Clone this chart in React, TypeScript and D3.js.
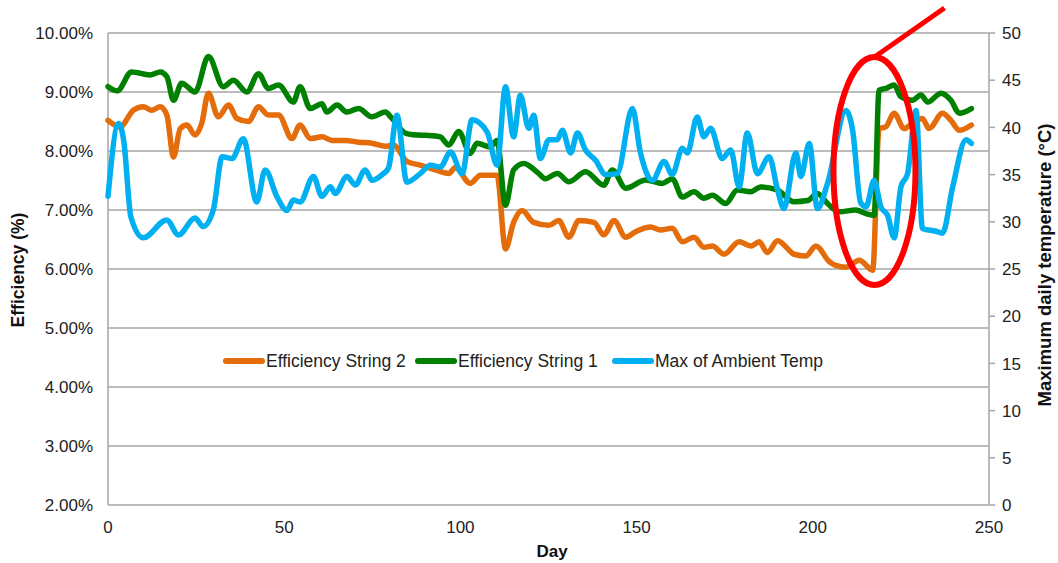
import React from 'react';
import * as d3 from 'd3';

// [day, efficiency %]
const string2: [number, number][] = [
  [0, 8.52], [3.4, 8.41], [7.2, 8.69], [10, 8.75], [12.4, 8.69], [14.8, 8.75], [16.7, 8.61],
  [18.6, 7.9], [20.5, 8.38], [22.4, 8.44], [24.7, 8.27], [26.6, 8.47], [28.5, 8.98], [31.3, 8.58],
  [34.2, 8.78], [36.6, 8.55], [39.9, 8.5], [42.7, 8.75], [45.5, 8.61], [48.4, 8.61], [52.2, 8.21],
  [54.5, 8.44], [57.4, 8.21], [60.7, 8.24], [63.6, 8.18], [67.3, 8.18], [71.1, 8.15], [74.9, 8.13],
  [78.7, 8.08], [81, 8.1], [84.9, 7.82], [88.6, 7.76], [93.4, 7.67], [96.7, 7.62], [98.6, 7.72],
  [102.8, 7.45], [105.7, 7.59], [110.4, 7.59], [112.8, 6.34], [115.1, 6.79], [117.5, 6.99],
  [120.8, 6.79], [125.1, 6.74], [127.9, 6.82], [130.8, 6.54], [133.6, 6.82], [137.9, 6.79],
  [140.7, 6.58], [143.6, 6.82], [146.9, 6.54], [149.7, 6.63], [154, 6.71], [156.8, 6.66],
  [160.1, 6.69], [163, 6.46], [166.3, 6.54], [169.1, 6.37], [171.5, 6.39], [174.8, 6.25],
  [179.1, 6.46], [182.4, 6.39], [184.8, 6.46], [187.1, 6.28], [190, 6.48], [194.7, 6.25],
  [198, 6.22], [200.9, 6.39], [204.6, 6.13], [206.5, 6.06], [209.4, 6.03], [213.2, 6.15],
  [217, 5.98], [218.8, 8.38], [220.7, 8.41], [223.1, 8.64], [225.9, 8.38], [228.3, 8.47],
  [231.1, 8.55], [233, 8.38], [236.8, 8.64], [239.2, 8.52], [241.6, 8.35], [245, 8.44],
];

const string1: [number, number][] = [
  [0, 9.09], [2.6, 9.02], [6.7, 9.34], [11.9, 9.29], [14.8, 9.34], [16.7, 9.26], [18.6, 8.86],
  [20.9, 9.15], [24.7, 9.0], [28.5, 9.6], [32.7, 9.09], [35.6, 9.2], [39.4, 9.0], [42.7, 9.31],
  [45.5, 9.06], [48.4, 9.12], [52.6, 8.83], [54.5, 9.09], [57.4, 8.72], [60.7, 8.8], [62.1, 8.66],
  [65, 8.78], [67.8, 8.66], [71.1, 8.72], [74.9, 8.58], [78.7, 8.66], [80.5, 8.56], [84.5, 8.3],
  [88, 8.27], [92, 8.26], [94.3, 8.24], [96.7, 8.1], [99.5, 8.33], [102.8, 7.96], [104.7, 8.13],
  [108.5, 8.07], [110.4, 8.18], [112.8, 7.08], [115.1, 7.68], [118, 7.79], [122.2, 7.62],
  [124.1, 7.53], [127.5, 7.62], [130.8, 7.48], [135.5, 7.65], [140.7, 7.42], [143.1, 7.68],
  [146.9, 7.37], [152.6, 7.51], [157.3, 7.45], [160.1, 7.53], [163, 7.22], [166.3, 7.31],
  [169.1, 7.2], [171.5, 7.25], [175.3, 7.11], [178.6, 7.34], [182.4, 7.31], [185.2, 7.39],
  [189.9, 7.34], [194.7, 7.14], [198.5, 7.16], [201.3, 7.28], [204.2, 7.11], [207.5, 6.97],
  [212.2, 7.0], [215.1, 6.94], [217.4, 6.91], [218.8, 9.03], [220.7, 9.06], [223.1, 9.12],
  [225, 8.92], [228.3, 8.86], [230.7, 8.95], [232.6, 8.83], [236.4, 8.98], [239.2, 8.86],
  [241.6, 8.64], [245, 8.72],
];

// [day, max ambient temp °C]
const ambientTemp: [number, number][] = [
  [0, 32.7], [3, 40.4], [4.5, 38.5], [6.5, 30.5], [10, 28.3], [16.7, 30.2], [20, 28.6],
  [24.7, 30.4], [27, 29.5], [29.9, 31.3], [32.4, 36.9], [35.2, 36.7], [38.4, 38.8], [42.2, 32.1],
  [44.6, 35.5], [47.9, 32.7], [50.8, 31.2], [52.6, 32.3], [54.5, 32.1], [58.3, 34.8], [60.7, 32.7],
  [63.1, 33.7], [64.5, 33.0], [67.8, 34.8], [70.2, 33.9], [73, 35.5], [74.9, 34.4], [77.8, 35.0],
  [79.6, 35.7], [82, 41.3], [84.8, 34.2], [88.6, 35.1], [91.5, 36.0], [94.3, 35.8], [97.2, 37.4],
  [100.5, 35.1], [103.3, 40.8], [107.6, 39.5], [110.4, 36.0], [112.8, 44.3], [115.1, 39.0],
  [117, 43.4], [119.4, 39.9], [120.8, 41.3], [122.7, 36.7], [125.1, 38.7], [127.5, 38.7],
  [128.9, 39.7], [131.3, 37.3], [133.2, 39.4], [135.5, 37.6], [138.4, 36.5], [141.2, 35.0],
  [144.5, 35.1], [148.8, 42.0], [151.1, 37.3], [154.5, 34.4], [157.8, 36.4], [160.1, 35.0],
  [163, 37.8], [164.4, 37.3], [167.2, 41.1], [169.1, 39.0], [171, 39.9], [174.3, 36.7],
  [176.7, 37.6], [179.1, 33.7], [181.4, 39.4], [184.3, 35.1], [187.6, 36.9], [190, 33.4],
  [191.8, 31.4], [195.2, 37.3], [196.6, 34.8], [199, 38.3], [201.3, 31.4], [204.2, 34.1],
  [209.4, 41.8], [211.3, 39.7], [213.6, 32.0], [215.1, 31.6], [217.4, 34.4], [219.3, 31.6],
  [221.2, 30.7], [223.1, 28.3], [225, 33.7], [226.9, 35.1], [229.3, 41.8], [231.1, 29.3],
  [234.9, 29.0], [236.8, 28.8], [239.7, 33.7], [243.5, 38.7], [245, 38.3],
];

const effTicks = [2, 3, 4, 5, 6, 7, 8, 9, 10];
const tempTicks = [0, 5, 10, 15, 20, 25, 30, 35, 40, 45, 50];
const dayTicks = [0, 50, 100, 150, 200, 250];

const legendItems = [
  { name: 'Efficiency String 2', color: '#e46c0a', x: 223 },
  { name: 'Efficiency String 1', color: '#008000', x: 415 },
  { name: 'Max of Ambient Temp', color: '#00b0f0', x: 612 },
];

const W = 1058;
const H = 563;
const left = 108;
const right = 989;
const top = 33;
const bottom = 505;
const font = '"Liberation Sans", Arial, sans-serif';
const textColor = '#222';
const gridColor = '#a6a6a6';

export default function App() {
  const x = d3.scaleLinear().domain([0, 250]).range([left, right]);
  const yEff = d3.scaleLinear().domain([2, 10]).range([bottom, top]);
  const yTemp = d3.scaleLinear().domain([0, 50]).range([bottom, top]);

  const effLine = d3.line<[number, number]>()
    .x(d => x(d[0]))
    .y(d => yEff(d[1]))
    .curve(d3.curveMonotoneX);
  const tempLine = d3.line<[number, number]>()
    .x(d => x(d[0]))
    .y(d => yTemp(d[1]))
    .curve(d3.curveMonotoneX);

  // annotation ellipse around the jump
  const cx = x(217.5);
  const cy = yEff(7.66);
  const rx = 41;
  const ry = 114;

  return (
    <svg width={W} height={H} style={{ position: 'absolute', left: 0, top: 0, background: '#fff' }}
      fontFamily={font}>
      {/* gridlines */}
      {effTicks.map(t => (
        <line key={'g' + t} x1={left} x2={right} y1={yEff(t)} y2={yEff(t)}
          stroke={gridColor} strokeWidth={1.5} />
      ))}
      {/* axes */}
      <line x1={left} x2={left} y1={top} y2={bottom} stroke={gridColor} strokeWidth={1.5} />
      <line x1={right} x2={right} y1={top} y2={bottom} stroke={gridColor} strokeWidth={1.5} />
      {tempTicks.map(t => (
        <line key={'rt' + t} x1={right} x2={right + 6} y1={yTemp(t)} y2={yTemp(t)}
          stroke={gridColor} strokeWidth={1.5} />
      ))}

      {effTicks.map(t => (
        <text key={'l' + t} x={93} y={yEff(t)} dy="0.36em" textAnchor="end" fontSize={17}
          fill={textColor}>{t.toFixed(2)}%</text>
      ))}
      {tempTicks.map(t => (
        <text key={'r' + t} x={1002} y={yTemp(t)} dy="0.36em" textAnchor="start" fontSize={17}
          fill={textColor}>{t}</text>
      ))}
      {dayTicks.map(t => (
        <text key={'b' + t} x={x(t)} y={533} textAnchor="middle" fontSize={17}
          fill={textColor}>{t}</text>
      ))}

      <text x={552} y={557} textAnchor="middle" fontSize={17} fontWeight="bold" fill="#111">Day</text>
      <text transform="translate(24,270) rotate(-90)" textAnchor="middle" fontSize={17.5}
        fontWeight="bold" fill="#111">Efficiency (%)</text>
      <text transform="translate(1051,265) rotate(-90)" textAnchor="middle" fontSize={18.5}
        fontWeight="bold" fill="#111">Maximum daily temperature (°C)</text>

      {/* series */}
      <path d={effLine(string2) || ''} fill="none" stroke="#e46c0a" strokeWidth={5.5}
        strokeLinejoin="round" strokeLinecap="round" />
      <path d={effLine(string1) || ''} fill="none" stroke="#008000" strokeWidth={5.5}
        strokeLinejoin="round" strokeLinecap="round" />
      <path d={tempLine(ambientTemp) || ''} fill="none" stroke="#00b0f0" strokeWidth={5.5}
        strokeLinejoin="round" strokeLinecap="round" />

      {/* legend */}
      {legendItems.map(item => (
        <g key={item.name}>
          <line x1={item.x + 3} x2={item.x + 39} y1={361} y2={361} stroke={item.color}
            strokeWidth={6} strokeLinecap="round" />
          <text x={item.x + 43} y={361} dy="0.36em" fontSize={17.5} fill={textColor}>{item.name}</text>
        </g>
      ))}

      {/* annotation */}
      <ellipse cx={cx} cy={cy} rx={rx} ry={ry} fill="none" stroke="#ff0000" strokeWidth={6} />
      <line x1={cx} y1={cy - ry} x2={cx + 70} y2={8} stroke="#ff0000" strokeWidth={5} />
    </svg>
  );
}
